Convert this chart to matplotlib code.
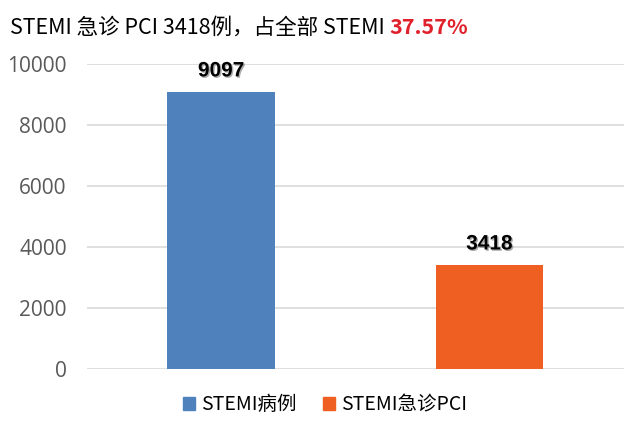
import matplotlib
matplotlib.use("Agg")
import matplotlib.pyplot as plt
import matplotlib.patheffects as pe
from matplotlib.patches import Patch

plt.rcParams['font.family'] = ['Noto Sans CJK SC', 'DejaVu Sans']

categories = ["STEMI病例", "STEMI急诊PCI"]
values = [9097, 3418]
colors = ["#4F81BD", "#EF5F22"]
yticks = [0, 2000, 4000, 6000, 8000, 10000]
title_main = "STEMI 急诊 PCI 3418例，占全部 STEMI "
title_pct = "37.57%"

fig = plt.figure(figsize=(6.3, 4.28), dpi=100)
ax = fig.add_axes([0.138, 0.138, 0.852, 0.712])

x = list(range(len(values)))
ax.bar(x, values, width=0.4, color=colors, zorder=3)
ax.set_xlim(-0.5, 1.5)
ax.set_ylim(0, 10000)
ax.set_yticks(yticks)
ax.set_yticklabels([str(t) for t in yticks], fontsize=15, color="#595959",
                   family="Open Sans")
ax.set_xticks([])
ax.tick_params(axis="y", length=0, pad=14.5)
ax.grid(True, axis="y", color="#D9D9D9", lw=1.2, zorder=0)
for s in ax.spines.values():
    s.set_visible(False)

shadow = [pe.withSimplePatchShadow(offset=(1, -1), shadow_rgbFace="#777777", alpha=0.6)]
for i, v in enumerate(values):
    ax.annotate(str(v), (i, v), xytext=(0, 15), textcoords="offset points",
                ha="center", va="center", fontsize=15, fontweight="bold",
                family="Liberation Sans", color="black", path_effects=shadow)

handles = [Patch(color=c, label=l) for c, l in zip(colors, categories)]
fig.legend(handles=handles, loc="center", bbox_to_anchor=(0.516, 0.054),
           ncol=2, frameon=False, fontsize=14, handlelength=0.6,
           handleheight=0.6, handletextpad=0.3, columnspacing=1.4)

# title in two colours: measure the first part, then put the red part after it
t1 = fig.text(0.016, 0.936, title_main, fontsize=15.5, va="center", ha="left",
              color="black")
fig.canvas.draw()
bb = t1.get_window_extent()
fig.text(bb.x1 / fig.bbox.width, 0.936, title_pct, fontsize=15.5, va="center",
         ha="left", color="#E0202B", fontweight="bold")

fig.savefig("out.png", dpi=100)
